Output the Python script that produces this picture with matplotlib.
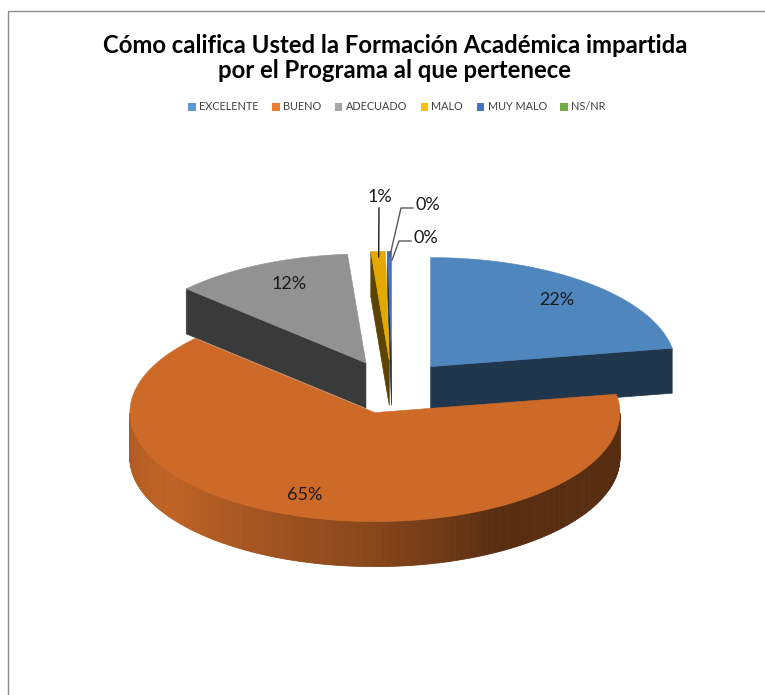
import numpy as np
import matplotlib.pyplot as plt
from matplotlib.patches import Polygon, Rectangle, Patch

# data
categories = ['EXCELENTE', 'BUENO', 'ADECUADO', 'MALO', 'MUY MALO', 'NS/NR']
values = [22.3, 64.6, 11.9, 0.95, 0.25, 0.0]
top_colors = ['#4f86bd', '#cd6a28', '#929292', '#e5a800', '#4472c4', '#5b9e3c']
legend_colors = ['#5b9bd5', '#ed7d31', '#a5a5a5', '#ffc000', '#4472c4', '#70ad47']
title = 'Cómo califica Usted la Formación Académica impartida\npor el Programa al que pertenece'

# 3d pie geometry (pixel space)
CX, CY = 392, 387
RX, RY = 245, 109
DEPTH = 45
EXPLODE = 0.245

plt.rcParams['font.family'] = ['Lato', 'DejaVu Sans']

fig = plt.figure(figsize=(7.65, 6.95), dpi=100)
ax = fig.add_axes([0, 0, 1, 1])
ax.set_xlim(0, 765)
ax.set_ylim(695, 0)
ax.axis('off')

ax.add_patch(Rectangle((8, 11), 900, 900, fill=False, edgecolor='#8c8c8c', lw=1))


def shade(c, f):
    rgb = np.array(plt.matplotlib.colors.to_rgb(c))
    return tuple(np.clip(rgb * f, 0, 1))


def wall_factor(theta):
    phi = theta % 360
    return np.interp(phi, [180, 215, 270, 300, 360], [0.85, 0.93, 0.66, 0.43, 0.42])


total = sum(values)
slices = []
t_top = 90.0
for i, v in enumerate(values):
    span = v / total * 360
    t2 = t_top
    t1 = t_top - span
    t_top = t1
    mid = np.radians((t1 + t2) / 2)
    cx = CX + EXPLODE * RX * np.cos(mid)
    cy = CY - EXPLODE * RY * np.sin(mid)
    slices.append((i, t1, t2, cx, cy))


def rim(cx, cy, th, r=1.0, ry=None):
    th = np.radians(th)
    if ry is None:
        ry = r
    return cx + r * RX * np.cos(th), cy - ry * RY * np.sin(th)


# back to front
for i, t1, t2, cx, cy in sorted(slices, key=lambda s: s[4]):
    if t2 - t1 <= 0:
        continue
    col = top_colors[i]
    side = shade(col, 0.4)
    # cut faces
    for th, vis in ((t1, np.cos(np.radians(t1)) > 1e-6), (t2, np.cos(np.radians(t2)) < -1e-6)):
        if vis:
            px, py = rim(cx, cy, th)
            ax.add_patch(Polygon([(cx, cy), (px, py), (px, py + DEPTH), (cx, cy + DEPTH)],
                                 closed=True, facecolor=side, edgecolor=side, lw=0.5))
    # outer wall
    ths = np.linspace(t1, t2, 400)
    for a0, a1 in zip(ths[:-1], ths[1:]):
        if np.sin(np.radians(a0)) <= 0 and np.sin(np.radians(a1)) <= 0:
            x0, y0 = rim(cx, cy, a0)
            x1, y1 = rim(cx, cy, a1)
            c = shade(col, wall_factor((a0 + a1) / 2))
            ax.add_patch(Polygon([(x0, y0), (x1, y1), (x1, y1 + DEPTH), (x0, y0 + DEPTH)],
                                 closed=True, facecolor=c, edgecolor=c, lw=0.6))
    # top face
    pts = [(cx, cy)] + [rim(cx, cy, a) for a in np.linspace(t1, t2, 200)]
    ax.add_patch(Polygon(pts, closed=True, facecolor=col, edgecolor=col, lw=0.4))

# labels
label_r = [(0.8, 0.8), (1.0, 0.79), (0.72, 0.8)]
small_pos = {3: (380, 197), 4: (428, 205), 5: (426, 238)}
for i, t1, t2, cx, cy in slices:
    txt = f'{round(values[i] / total * 100)}%'
    mid = (t1 + t2) / 2
    if i in small_pos:
        lx, ly = small_pos[i]
        ax.text(lx, ly, txt, fontsize=13, color='#1a1a1a', ha='center', va='center')
        ex, ey = rim(cx, cy, mid, 0.95 if i < 5 else 0.92)
        if i == 3:
            ax.plot([lx - 1, ex], [ly + 11, ey], color='#1a1a1a', lw=1)
        else:
            ax.plot([lx - 15, lx - 27, ex], [ly + 3, ly + 3, ey], color='#595959', lw=1)
    else:
        rx, ry = label_r[i]
        lx, ly = rim(cx, cy, mid, rx, ry)
        ax.text(lx, ly, txt, fontsize=13, color='#1a1a1a', ha='center', va='center')

ax.text(395, 58, title, fontsize=17.2, fontweight='bold', ha='center', va='center',
        linespacing=1.15, color='#000000')

handles = [Patch(facecolor=c, edgecolor='none') for c in legend_colors]
ax.legend(handles, categories, loc='center', bbox_to_anchor=(397 / 765, 1 - 107 / 695),
          ncol=6, frameon=False, fontsize=7.8, handlelength=0.7, handleheight=0.7,
          handletextpad=0.3, columnspacing=1.25, labelcolor='#404040')

fig.savefig('out.png', dpi=100)
